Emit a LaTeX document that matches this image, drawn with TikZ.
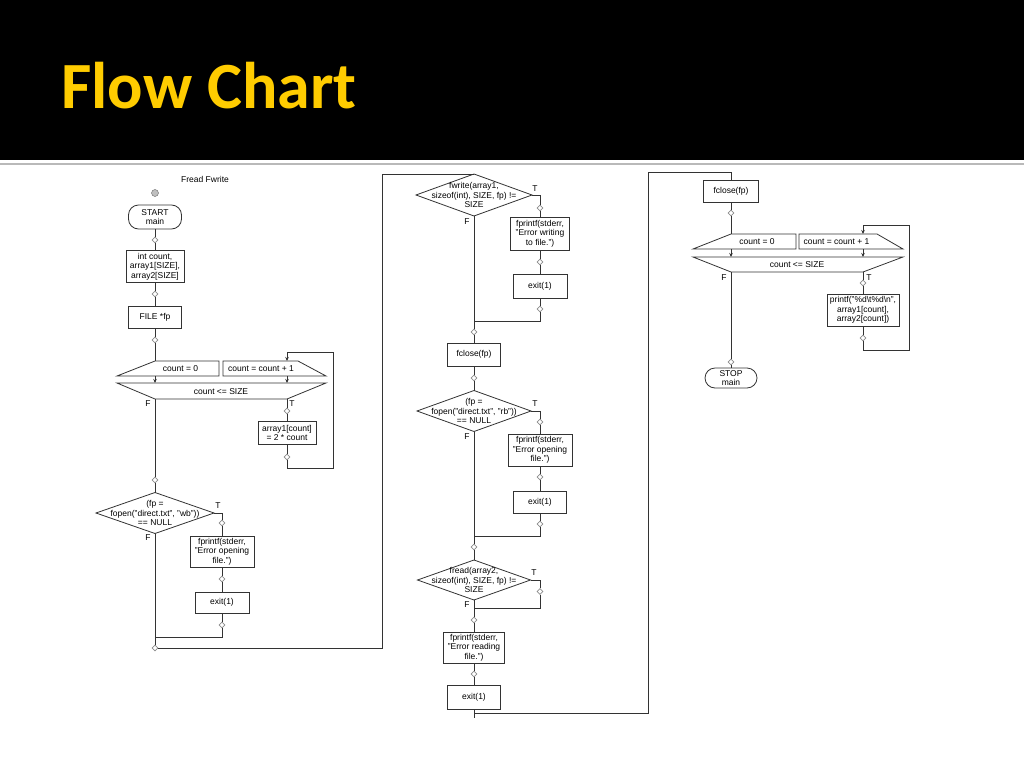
\documentclass[tikz,border=0pt]{standalone}
\usepackage{fontspec}
\setmainfont{Liberation Sans}
\newfontfamily\titlefont{Carlito}
\usetikzlibrary{arrows.meta,shapes.geometric}
\definecolor{titleyellow}{RGB}{255,204,0}

\begin{document}
\begin{tikzpicture}[x=1pt,y=-1pt,
  line/.style={draw=black!80,line width=0.8pt},
  arr/.style={line,-{Stealth[length=4pt,width=3.5pt]}},
  txt/.style={font=\fontsize{8.5}{9.5}\selectfont,align=center,inner sep=0pt},
  box/.style={txt,line,fill=white},
  term/.style={box,rounded corners=10pt},
  conn/.style={diamond,draw=black!45,fill=white,line width=0.6pt,minimum size=6pt,inner sep=0pt},
  decision/.style={diamond,line,fill=white,inner sep=0pt,outer sep=0pt}]
\useasboundingbox (0,0) rectangle (1024,768);
\fill[black] (0,0) rectangle (1024,160);
\draw[gray!55,line width=2pt] (0,163.5) -- (1024,163.5);
\node[anchor=base west,text=titleyellow,inner sep=0pt,font=\titlefont\bfseries\fontsize{66}{66}\selectfont] (title) at (61,108) {Flow Chart};

\node[txt] (name) at (205,179) {Fread Fwrite};
\node[circle,draw=black!60,fill=black!25,minimum size=7pt,inner sep=0pt] (dot) at (155,193) {};
\node[term,minimum width=53pt,minimum height=24pt] (start) at (155,217) {START\\main};
\node[conn] (c1) at (155,240) {};
\node[box,minimum width=58pt,minimum height=32pt] (decl) at (155,266.5) {int count,\\array1[SIZE],\\array2[SIZE]};
\node[conn] (c2) at (155,294) {};
\node[box,minimum width=53pt,minimum height=22pt] (filep) at (155,317) {FILE *fp};
\node[conn] (c3) at (155,340) {};

\coordinate (lp1in) at (155,361);
\coordinate (lp1inc) at (287,361);
\coordinate (lp1f) at (155,399);
\coordinate (lp1t) at (287,399);
\draw[line] (117,376) -- (lp1in) -- (219,361) -- (219,376) -- cycle;
\draw[line] (223,361) -- (298,361) -- (326,376) -- (223,376) -- cycle;
\draw[line] (117,383) -- (326,383) -- (lp1t) -- (lp1f) -- cycle;
\draw[arr] (155,376) -- (155,383);
\draw[arr] (287,376) -- (287,383);
\node[txt] (init1) at (180.5,368.5) {count = 0};
\node[txt] (incr1) at (261,368.5) {count = count + 1};
\node[txt] (cond1) at (221,391.5) {count <= SIZE};
\node[txt] (f1) at (148,404) {F};
\node[txt] (t1) at (292,404) {T};
\node[conn] (c4) at (287,411) {};
\node[box,minimum width=58pt,minimum height=23pt] (fill1) at (287,433) {array1[count]\\= 2 * count};
\node[conn] (c5) at (287,457) {};
\node[conn] (c6) at (155,480) {};

\node[decision,minimum width=118pt,minimum height=41pt] (dec1) at (155,513) {};
\node[txt] (dec1t) at (155,513) {(fp =\\fopen("direct.txt", "wb"))\\== NULL};
\node[txt] (t2) at (218,506) {T};
\node[txt] (f2) at (148,538) {F};
\node[conn] (c7) at (222,523) {};
\node[box,minimum width=64pt,minimum height=31pt] (err1) at (222,551.5) {fprintf(stderr,\\"Error opening\\file.")};
\node[conn] (c8) at (222,579) {};
\node[box,minimum width=54pt,minimum height=21pt] (exit1) at (222,602.5) {exit(1)};
\node[conn] (c9) at (222,625) {};
\node[conn] (c10) at (155,648) {};

\node[decision,minimum width=116pt,minimum height=42pt] (dec2) at (474,195) {};
\node[txt] (dec2t) at (474,195) {fwrite(array1,\\sizeof(int), SIZE, fp) !=\\SIZE};
\node[txt] (t3) at (535,189) {T};
\node[txt] (f3) at (467,222) {F};
\node[conn] (c11) at (540,208) {};
\node[box,minimum width=59pt,minimum height=33pt] (err2) at (540,233.5) {fprintf(stderr,\\"Error writing\\to file.")};
\node[conn] (c12) at (540,262) {};
\node[box,minimum width=54pt,minimum height=24pt] (exit2) at (540,286) {exit(1)};
\node[conn] (c13) at (540,309) {};
\node[conn] (c14) at (474,332) {};
\node[box,minimum width=53pt,minimum height=23pt] (close1) at (474,354.5) {fclose(fp)};
\node[conn] (c15) at (474,378) {};

\node[decision,minimum width=114pt,minimum height=41pt] (dec3) at (474,411) {};
\node[txt] (dec3t) at (474,411) {(fp =\\fopen("direct.txt", "rb"))\\== NULL};
\node[txt] (t4) at (535,404) {T};
\node[txt] (f4) at (467,437) {F};
\node[conn] (c16) at (540,422) {};
\node[box,minimum width=64pt,minimum height=32pt] (err3) at (540,450) {fprintf(stderr,\\"Error opening\\file.")};
\node[conn] (c17) at (540,477) {};
\node[box,minimum width=53pt,minimum height=22pt] (exit3) at (540,502) {exit(1)};
\node[conn] (c18) at (540,524) {};
\node[conn] (c19) at (474,547) {};

\node[decision,minimum width=113pt,minimum height=40pt] (dec4) at (474,580) {};
\node[txt] (dec4t) at (474,580) {fread(array2,\\sizeof(int), SIZE, fp) !=\\SIZE};
\node[txt] (t5) at (534,573) {T};
\node[txt] (f5) at (467,605) {F};
\node[conn] (c20) at (540,591.5) {};
\node[conn] (c21) at (474,620) {};
\node[box,minimum width=61pt,minimum height=31pt] (err4) at (474,647.5) {fprintf(stderr,\\"Error reading\\file.")};
\node[conn] (c22) at (474,674) {};
\node[box,minimum width=53pt,minimum height=24pt] (exit4) at (474,697) {exit(1)};

\node[box,minimum width=55pt,minimum height=22pt] (close2) at (731,191) {fclose(fp)};
\node[conn] (c23) at (731,213) {};
\coordinate (lp2in) at (731,234);
\coordinate (lp2inc) at (863,234);
\coordinate (lp2f) at (731,272);
\coordinate (lp2t) at (863,272);
\draw[line] (693,249) -- (lp2in) -- (796,234) -- (796,249) -- cycle;
\draw[line] (799,234) -- (877,234) -- (903,249) -- (799,249) -- cycle;
\draw[line] (693,257) -- (903,257) -- (lp2t) -- (lp2f) -- cycle;
\draw[arr] (731,249) -- (731,257);
\draw[arr] (863,249) -- (863,257);
\node[txt] (init2) at (757,241.5) {count = 0};
\node[txt] (incr2) at (836.5,241.5) {count = count + 1};
\node[txt] (cond2) at (797,264.5) {count <= SIZE};
\node[txt] (f6) at (724,278) {F};
\node[txt] (t6) at (869,278) {T};
\node[conn] (c24) at (863,283) {};
\node[box,minimum width=72pt,minimum height=32pt] (show) at (863,310) {printf("\%d\textbackslash t\%d\textbackslash n",\\array1[count],\\array2[count])};
\node[conn] (c25) at (863,338) {};
\node[conn] (c26) at (731,362) {};
\node[term,minimum width=52pt,minimum height=20pt] (stop) at (731,378) {STOP\\main};

\draw[line] (start) -- (c1) -- (decl) -- (c2) -- (filep) -- (c3) -- (lp1in);
\draw[line] (lp1t) -- (c4) -- (fill1) -- (c5);
\draw[arr] (c5) -- (287,468) -| (333,352) -| (lp1inc);
\draw[line] (lp1f) -- (c6) -- (dec1);
\draw[line] (dec1.east) -- (222,513) -- (c7) -- (err1) -- (c8) -- (exit1) -- (c9) -- (222,637) -- (155,637);
\draw[line] (dec1.south) -- (c10) -- (382,648) -- (382,174) -- (dec2.north);
\draw[line] (dec2.east) -- (540,195) -- (c11) -- (err2) -- (c12) -- (exit2) -- (c13) -- (540,321) -- (474,321);
\draw[line] (dec2.south) -- (c14) -- (close1) -- (c15) -- (dec3);
\draw[line] (dec3.east) -- (540,411) -- (c16) -- (err3) -- (c17) -- (exit3) -- (c18) -- (540,536) -- (474,536);
\draw[line] (dec3.south) -- (c19) -- (dec4);
\draw[line] (dec4.east) -- (540,580) -- (c20) -- (540,608) -- (474,608);
\draw[line] (dec4.south) -- (c21) -- (err4) -- (c22) -- (exit4) -- (474,718);
\draw[line] (474,713) -- (648,713) -- (648,172) -- (731,172) -- (close2);
\draw[line] (close2) -- (c23) -- (lp2in);
\draw[line] (lp2t) -- (c24) -- (show) -- (c25);
\draw[arr] (c25) -- (863,350) -| (909,225) -| (lp2inc);
\draw[line] (lp2f) -- (c26) -- (stop);
\end{tikzpicture}
\end{document}
